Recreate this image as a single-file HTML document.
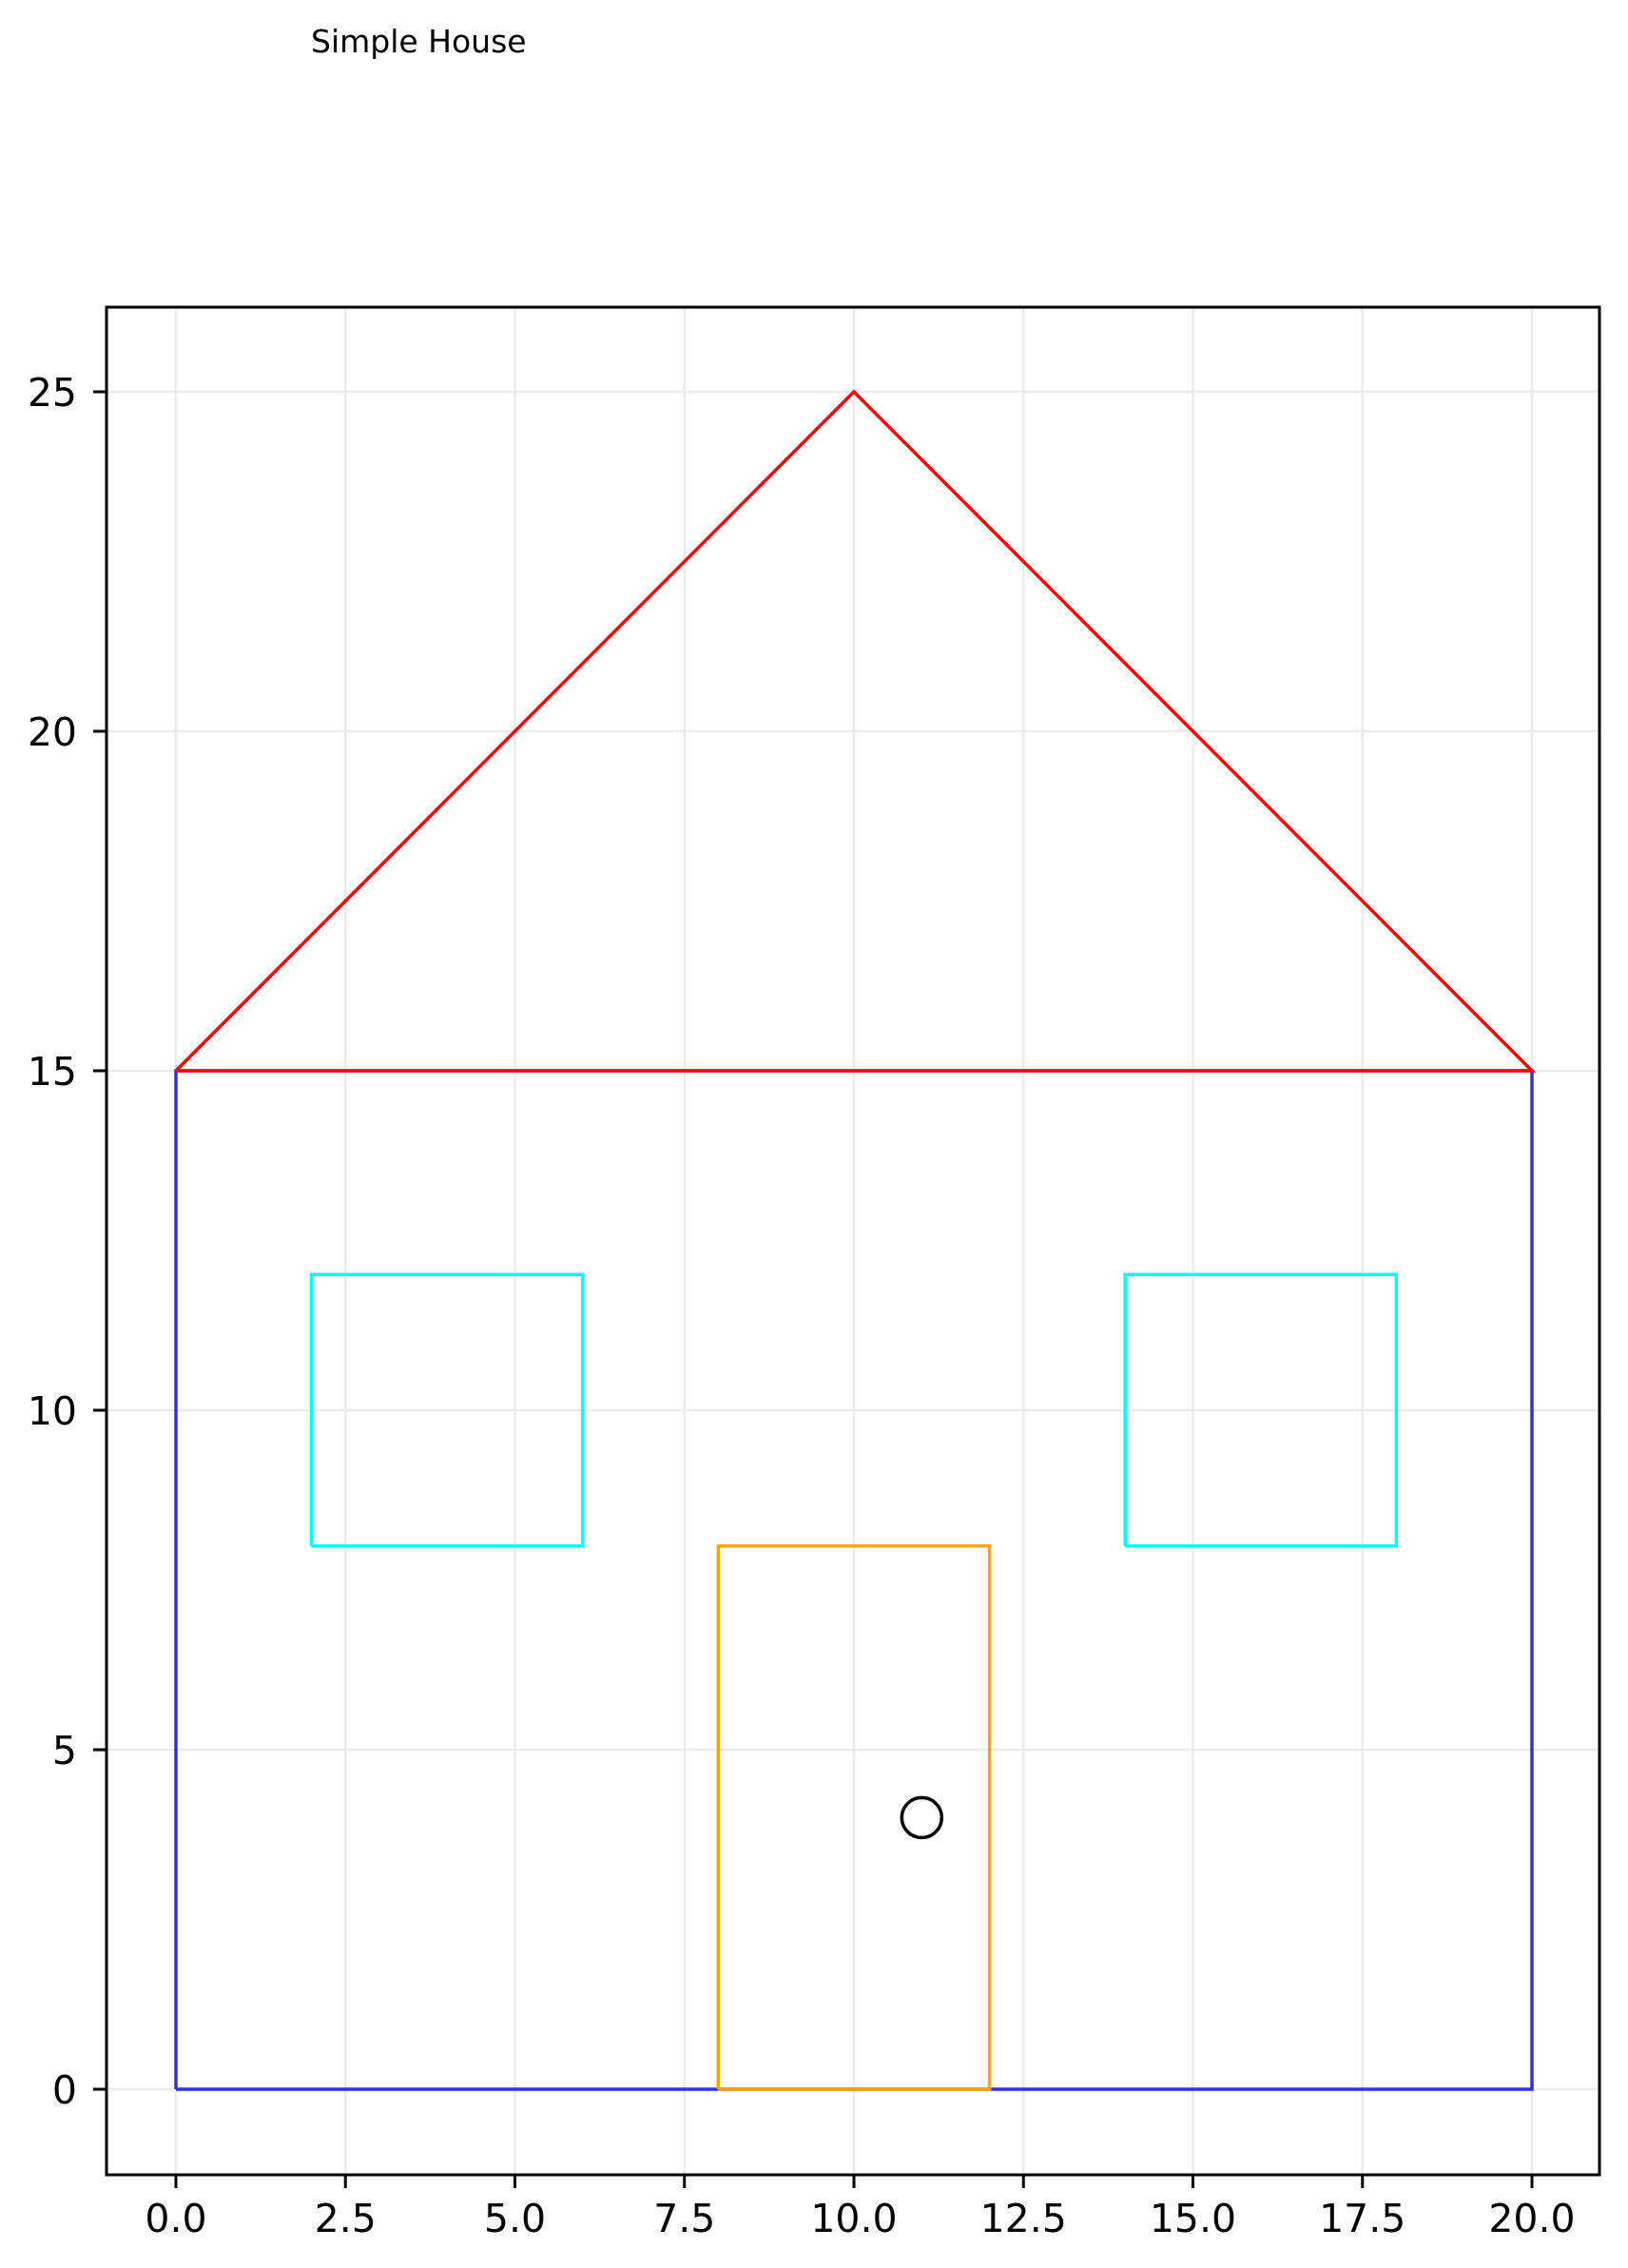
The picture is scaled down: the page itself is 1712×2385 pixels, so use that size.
<!DOCTYPE html>
<html><head><meta charset="utf-8"><style>
html,body{margin:0;padding:0;background:#fff;}
svg{display:block;}
text{font-family:"DejaVu Sans","Liberation Sans",sans-serif;fill:#000;}
</style></head><body>
<svg id="chart" width="1712" height="2385" viewBox="0 0 1712 2385" xmlns="http://www.w3.org/2000/svg">
<text x="327" y="55" font-size="33">Simple House</text>
<g id="grid"></g>
<g id="shapes"></g>
<rect x="112" y="323" width="1570" height="1964" fill="none" stroke="#000" stroke-width="3"/>
<g id="ticks"></g>
</svg>
<script>
const xTicks = [0, 2.5, 5, 7.5, 10, 12.5, 15, 17.5, 20];
const xTickLabels = ["0.0","2.5","5.0","7.5","10.0","12.5","15.0","17.5","20.0"];
const yTicks = [0, 5, 10, 15, 20, 25];
const yTickLabels = ["0","5","10","15","20","25"];
const wallsX = [0, 20, 20, 0, 0];
const wallsY = [0, 0, 15, 15, 0];
const roofX = [0, 10, 20, 0];
const roofY = [15, 25, 15, 15];
const window1X = [2, 6, 6, 2, 2];
const window1Y = [8, 8, 12, 12, 8];
const window2X = [14, 18, 18, 14, 14];
const window2Y = [8, 8, 12, 12, 8];
const doorX = [8, 12, 12, 8, 8];
const doorY = [0, 0, 8, 8, 0];
const knob = [11, 4];

const NS = "http://www.w3.org/2000/svg";
const L = 112, R = 1682, T = 323, B = 2287;
const sx = v => 185 + v * 71.3;
const sy = v => 2197 - v * 71.4;
function mk(tag, attrs, parent) {
  const e = document.createElementNS(NS, tag);
  for (const k in attrs) e.setAttribute(k, attrs[k]);
  parent.appendChild(e);
  return e;
}
const grid = document.getElementById('grid');
const ticks = document.getElementById('ticks');
const shapes = document.getElementById('shapes');
xTicks.forEach((v, i) => {
  const g = mk('line', {x1: sx(v), x2: sx(v), y1: T, y2: B, stroke: '#ebebeb', 'stroke-width': 2.5}, grid);
  
  
  const t = mk('line', {x1: sx(v), x2: sx(v), y1: B, y2: B + 14, stroke: '#000', 'stroke-width': 3}, ticks);
  
  
  const lb = mk('text', {x: sx(v), y: 2347, 'font-size': 41, 'text-anchor': 'middle'}, ticks);
  lb.textContent = xTickLabels[i];
  
  
});
yTicks.forEach((v, i) => {
  const g = mk('line', {x1: L, x2: R, y1: sy(v), y2: sy(v), stroke: '#ebebeb', 'stroke-width': 2.5}, grid);
  
  
  const t = mk('line', {x1: L - 14, x2: L, y1: sy(v), y2: sy(v), stroke: '#000', 'stroke-width': 3}, ticks);
  
  
  const lb = mk('text', {x: 81, y: sy(v) + 15, 'font-size': 41, 'text-anchor': 'end'}, ticks);
  lb.textContent = yTickLabels[i];
  
  
});
function poly(xs, ys, color, name, op) {
  const pts = xs.map((x, i) => sx(x) + ',' + sy(ys[i])).join(' ');
  const p = mk('polyline', {points: pts, fill: 'none', stroke: color, 'stroke-width': 3.5, 'stroke-opacity': op}, shapes);
  
  
}
poly(wallsX, wallsY, '#0000ff', 'walls', 0.8);
poly(roofX, roofY, '#ff0000', 'roof', 1);
poly(window1X, window1Y, '#00ffff', 'window-left', 1);
poly(window2X, window2Y, '#00ffff', 'window-right', 1);
poly(doorX, doorY, '#ffa500', 'door', 1);
const c = mk('circle', {cx: sx(knob[0]), cy: sy(knob[1]), r: 21, fill: 'none', stroke: '#000', 'stroke-width': 3.5}, shapes);


</script>
</body></html>
